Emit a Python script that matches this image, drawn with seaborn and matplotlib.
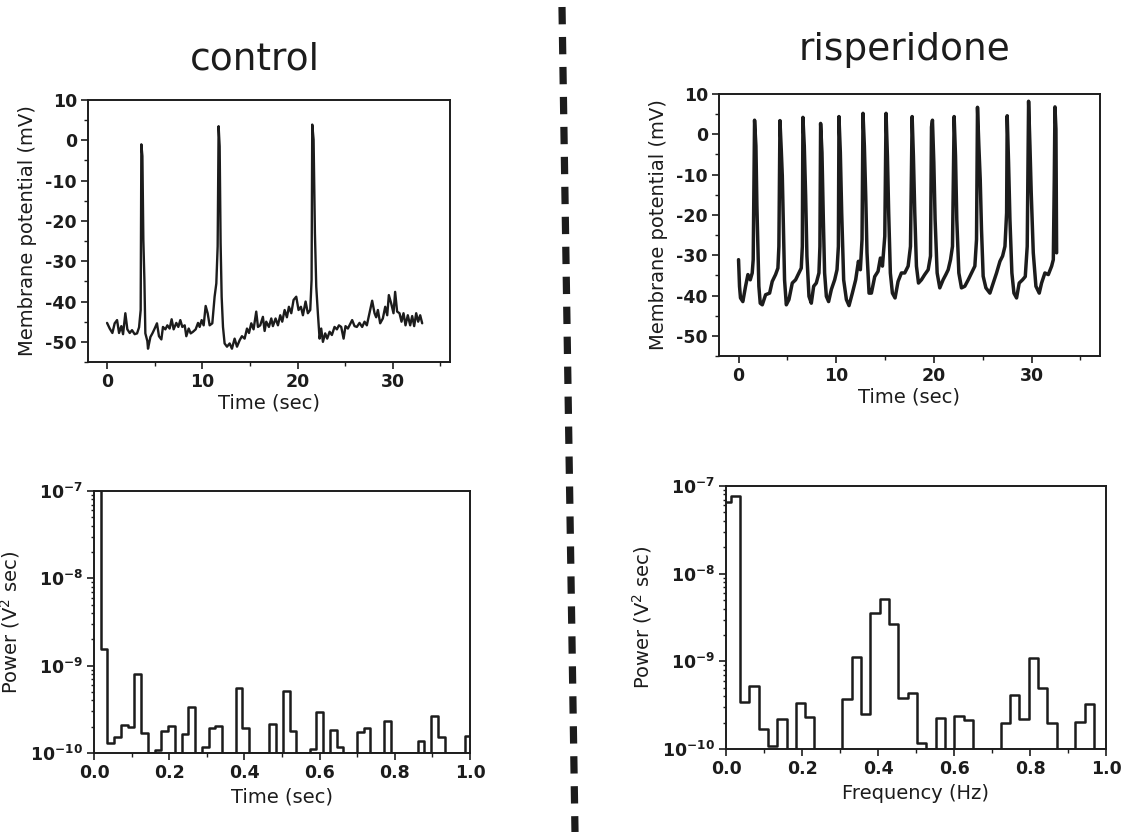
import numpy as np
import matplotlib
matplotlib.use("Agg")
import matplotlib.pyplot as plt
from matplotlib.lines import Line2D
from matplotlib.ticker import MultipleLocator, FixedLocator, LogLocator
import seaborn as sns

# ---------------- data ----------------
# control membrane potential trace (time s, mV)
ctrl_t = [0.0, 0.28, 0.56, 0.80, 1.05, 1.26, 1.5, 1.68, 1.92, 2.13, 2.38, 2.62, 2.9, 3.15, 3.36, 3.53,
          3.6, 3.71, 3.81, 3.92, 4.02, 4.23, 4.3, 4.55, 4.76, 5.0, 5.24, 5.45, 5.7, 5.87, 6.12, 6.33,
          6.57, 6.78, 6.99, 7.27, 7.48, 7.69, 7.9, 8.15, 8.32, 8.57, 8.78, 9.02, 9.3, 9.55, 9.72, 9.93,
          10.14, 10.35, 10.56, 10.77, 11.05, 11.29, 11.47, 11.61, 11.71, 11.82, 11.92, 12.03, 12.17,
          12.34, 12.59, 12.87, 13.11, 13.39, 13.64, 13.92, 14.16, 14.44, 14.69, 14.9, 15.14, 15.38,
          15.66, 15.84, 16.08, 16.36, 16.54, 16.71, 16.99, 17.24, 17.41, 17.69, 17.94, 18.18, 18.39,
          18.64, 18.88, 19.09, 19.34, 19.58, 19.86, 20.1, 20.35, 20.56, 20.84, 21.08, 21.33, 21.47,
          21.54, 21.68, 21.82, 21.96, 22.13, 22.31, 22.48, 22.66, 22.9, 23.11, 23.36, 23.6, 23.88,
          24.13, 24.34, 24.58, 24.83, 25.03, 25.28, 25.45, 25.73, 25.98, 26.22, 26.5, 26.78, 27.03,
          27.27, 27.55, 27.83, 28.08, 28.25, 28.43, 28.67, 28.95, 29.2, 29.41, 29.58, 29.83, 30.07,
          30.24, 30.45, 30.7, 30.91, 31.12, 31.33, 31.57, 31.82, 32.03, 32.24, 32.45, 32.66, 32.87, 33.08]
ctrl_v = [-45.3, -46.7, -47.8, -45.4, -44.6, -47.8, -46.1, -48.1, -42.9, -46.9, -47.8, -47.1, -48.1,
          -47.9, -46.4, -42.1, -1.0, -3.9, -24.7, -34.6, -47.9, -49.8, -51.7, -48.8, -47.9, -46.7,
          -45.4, -48.6, -49.4, -46.3, -46.9, -45.9, -46.7, -44.4, -46.9, -45.3, -46.3, -44.6, -46.3,
          -45.9, -48.6, -46.7, -47.9, -47.5, -46.9, -45.3, -46.3, -44.6, -45.9, -41.1, -42.9, -45.9,
          -45.4, -38.8, -35.5, -26.3, 3.5, -1.5, -25.5, -38.8, -46.3, -50.4, -51.2, -50.4, -51.7,
          -49.2, -51.2, -49.6, -48.6, -49.2, -46.7, -47.8, -45.4, -46.9, -42.5, -46.3, -45.9, -43.8,
          -47.3, -45.0, -46.3, -44.2, -46.1, -44.2, -45.9, -43.4, -45.0, -42.1, -43.9, -41.3, -42.9,
          -39.6, -38.8, -42.1, -41.3, -43.4, -40.0, -42.9, -42.1, -34.6, 3.9, 0.2, -23.0, -36.3,
          -42.9, -49.2, -46.7, -50.0, -47.9, -49.2, -47.5, -48.3, -46.3, -46.9, -45.9, -46.3, -49.2,
          -46.1, -46.7, -45.9, -44.6, -46.1, -46.3, -45.3, -46.3, -45.0, -45.9, -42.9, -39.8, -42.9,
          -43.9, -42.1, -45.4, -44.2, -41.3, -43.4, -38.4, -40.5, -42.9, -37.6, -42.5, -42.9, -45.0,
          -42.9, -45.9, -43.4, -45.9, -43.6, -46.1, -42.9, -45.0, -43.4, -45.4]

# risperidone membrane potential trace (time s, mV)
risp_t = [0.0, 0.10, 0.20, 0.44, 0.72, 0.96, 1.2, 1.4, 1.5, 1.64, 1.78, 1.88, 1.98, 2.08, 2.22, 2.43,
          2.77, 3.18, 3.45, 3.79, 4.03, 4.13, 4.24, 4.37, 4.48, 4.58, 4.71, 4.89, 5.16, 5.5, 5.84,
          6.18, 6.42, 6.53, 6.59, 6.73, 6.87, 7.0, 7.21, 7.45, 7.69, 7.96, 8.23, 8.33, 8.4, 8.54,
          8.68, 8.81, 8.99, 9.22, 9.5, 9.84, 10.08, 10.22, 10.28, 10.42, 10.56, 10.76, 11.04, 11.31,
          11.65, 11.99, 12.27, 12.47, 12.64, 12.74, 12.88, 13.02, 13.15, 13.36, 13.6, 13.94, 14.28,
          14.52, 14.73, 14.97, 15.1, 15.24, 15.37, 15.54, 15.75, 16.02, 16.33, 16.67, 17.01, 17.36,
          17.6, 17.77, 17.9, 18.04, 18.21, 18.42, 18.72, 19.06, 19.41, 19.65, 19.75, 19.85, 19.99,
          20.12, 20.33, 20.6, 20.94, 21.22, 21.46, 21.7, 21.9, 22.07, 22.21, 22.34, 22.55, 22.82,
          23.16, 23.51, 23.85, 24.19, 24.36, 24.46, 24.6, 24.74, 24.87, 25.04, 25.32, 25.73, 26.07,
          26.41, 26.76, 27.03, 27.27, 27.44, 27.5, 27.64, 27.78, 27.98, 28.19, 28.46, 28.73, 29.07,
          29.35, 29.55, 29.69, 29.83, 29.96, 30.17, 30.44, 30.78, 31.02, 31.36, 31.71, 32.05, 32.22,
          32.32, 32.39, 32.49, 32.56]
risp_v = [-31.1, -37.7, -40.6, -41.5, -37.7, -34.8, -36.1, -34.4, -31.1, 3.5, -2.9, -17.8, -27.8,
          -37.7, -41.9, -42.3, -39.8, -39.4, -36.5, -34.8, -33.2, -27.8, 3.4, -3.6, -10.3, -21.1,
          -36.1, -42.3, -41.0, -36.9, -36.1, -34.4, -33.2, -27.8, 4.2, -2.9, -15.3, -30.2, -40.2,
          -41.9, -37.7, -36.9, -34.4, -27.8, 2.7, -4.5, -21.1, -34.4, -40.2, -41.5, -38.5, -36.1,
          -33.6, -27.8, 4.4, -4.5, -19.5, -36.1, -41.0, -42.5, -39.4, -36.1, -31.5, -33.6, -26.1,
          5.2, -2.9, -15.3, -29.4, -39.4, -39.4, -35.3, -34.0, -30.7, -32.7, -25.3, 5.2, -5.4,
          -19.5, -34.4, -39.4, -40.6, -36.5, -34.4, -34.4, -32.7, -27.8, 4.4, -5.4, -19.5, -32.7,
          -36.9, -36.1, -34.8, -33.6, -30.2, 1.8, 3.5, -7.0, -21.1, -34.4, -38.1, -36.1, -34.8,
          -33.6, -31.1, -27.8, 4.4, -5.4, -21.1, -34.4, -38.1, -37.7, -36.1, -34.4, -32.7, -26.1,
          6.7, -2.9, -11.2, -23.6, -35.2, -38.1, -39.4, -36.9, -34.4, -31.5, -30.2, -27.8, -19.5,
          4.6, -7.0, -21.1, -34.4, -39.4, -40.6, -36.9, -36.1, -35.3, -27.8, 8.2, -2.9, -14.5,
          -29.4, -37.7, -39.4, -36.9, -34.4, -34.8, -32.7, -31.1, -11.2, 6.8, 1.3, -29.4]

# power spectra (V^2 sec); 1e-10 marks bins at/below the axis floor
ctrl_df = 0.01793
ctrl_power = [3e-7, 1.56e-9, 1.29e-10, 1.54e-10, 2.09e-10, 2.0e-10, 8.0e-10, 1.68e-10, 1e-10,
              1.08e-10, 1.8e-10, 2.04e-10, 1e-10, 1.65e-10, 3.34e-10, 1e-10, 1.18e-10, 1.92e-10,
              2.04e-10, 1e-10, 1e-10, 5.5e-10, 1.92e-10, 1e-10, 1e-10, 1e-10, 2.13e-10, 1e-10,
              5.17e-10, 1.8e-10, 1e-10, 1e-10, 1.1e-10, 2.97e-10, 1e-10, 1.83e-10, 1.16e-10, 1e-10,
              1e-10, 1.73e-10, 1.92e-10, 1e-10, 1e-10, 2.34e-10, 1e-10, 1e-10, 1e-10, 1e-10,
              1.37e-10, 1e-10, 2.65e-10, 1.51e-10, 1e-10, 1e-10, 1e-10, 1.57e-10]
risp_df = 0.02451
risp_power = [6.56e-8, 7.68e-8, 3.42e-10, 5.22e-10, 1.69e-10, 1.07e-10, 2.2e-10, 1e-10, 3.36e-10,
              2.32e-10, 1e-10, 1e-10, 1e-10, 3.74e-10, 1.12e-9, 2.52e-10, 3.54e-9, 5.13e-9, 2.65e-9,
              3.8e-10, 4.3e-10, 1.17e-10, 1e-10, 2.24e-10, 1e-10, 2.37e-10, 2.13e-10, 1e-10, 1e-10,
              1e-10, 1.99e-10, 4.08e-10, 2.2e-10, 1.1e-9, 4.95e-10, 1.99e-10, 1e-10, 1e-10, 2.04e-10,
              3.22e-10, 1e-10, 1e-10]

titles = ["control", "risperidone"]
mv_ticks = [-50, -40, -30, -20, -10, 0, 10]
time_ticks = [0, 10, 20, 30]
freq_ticks = [0.0, 0.2, 0.4, 0.6, 0.8, 1.0]
power_ticks = [1e-10, 1e-9, 1e-8, 1e-7]
power_tick_labels = [r"$\mathbf{10^{-10}}$", r"$\mathbf{10^{-9}}$", r"$\mathbf{10^{-8}}$", r"$\mathbf{10^{-7}}$"]

# ---------------- style ----------------
sns.set_theme(style="ticks")
plt.rcParams["font.family"] = ["DejaVu Sans"]
plt.rcParams["mathtext.fontset"] = "dejavusans"
plt.rcParams["axes.unicode_minus"] = False
INK = "#1c1c1c"

fig = plt.figure(figsize=(11.22, 8.32), dpi=100)
W, H = 1122.0, 832.0

def add_ax(l, t, r, b):
    return fig.add_axes([l / W, 1 - b / H, (r - l) / W, (b - t) / H])

ax_tl = add_ax(88, 100, 450, 362)
ax_tr = add_ax(719, 94, 1100, 356)
ax_bl = add_ax(94, 491, 470, 753)
ax_br = add_ax(726, 486, 1106, 749)

def style_axes(ax):
    for s in ax.spines.values():
        s.set_visible(True)
        s.set_color(INK)
        s.set_linewidth(1.4)
    ax.tick_params(which="major", direction="out", length=5, width=1.2, colors=INK,
                   labelsize=12.5, pad=3)
    ax.tick_params(which="minor", direction="out", length=3, width=1.0, colors=INK)
    for lab in ax.get_xticklabels() + ax.get_yticklabels():
        lab.set_fontweight("bold")
    ax.set_facecolor("white")
    ax.grid(False)

# ---- membrane potential traces ----
for ax, t, v, xr in [(ax_tl, ctrl_t, ctrl_v, (-2, 36)), (ax_tr, risp_t, risp_v, (-2, 37))]:
    sns.lineplot(x=t, y=v, ax=ax, estimator=None, sort=False, color=INK,
                 linewidth=1.7 if ax is ax_tl else 2.5)
    ax.set_xlim(*xr)
    ax.set_ylim(-55, 10)
    ax.xaxis.set_major_locator(FixedLocator(time_ticks))
    ax.xaxis.set_minor_locator(MultipleLocator(5))
    ax.yaxis.set_major_locator(FixedLocator(mv_ticks))
    ax.yaxis.set_minor_locator(MultipleLocator(5))
    ax.set_xlabel("Time (sec)", fontsize=14, color=INK, labelpad=2)
    ax.set_ylabel("Membrane potential (mV)", fontsize=14, color=INK, labelpad=6)
    style_axes(ax)

# ---- power spectra ----
ctrl_edges = np.arange(len(ctrl_power) + 1) * ctrl_df
risp_edges = (np.arange(len(risp_power) + 1) - 0.5) * risp_df
for ax, edges, p, xl in [(ax_bl, ctrl_edges, ctrl_power, "Time (sec)"),
                         (ax_br, risp_edges, risp_power, "Frequency (Hz)")]:
    yy = list(p) + [p[-1]]
    sns.lineplot(x=edges, y=yy, ax=ax, estimator=None, sort=False, color=INK,
                 linewidth=1.8, drawstyle="steps-post")
    ax.set_yscale("log")
    ax.set_xlim(0, 1.0)
    ax.set_ylim(1e-10, 1e-7)
    ax.xaxis.set_major_locator(FixedLocator(freq_ticks))
    ax.xaxis.set_minor_locator(MultipleLocator(0.1))
    ax.set_xticklabels([f"{v:.1f}" for v in freq_ticks])
    ax.set_yticks(power_ticks)
    ax.set_yticklabels(power_tick_labels)
    ax.yaxis.set_minor_locator(LogLocator(base=10, subs=np.arange(2, 10)))
    ax.yaxis.set_minor_formatter(plt.NullFormatter())
    ax.set_xlabel(xl, fontsize=14, color=INK, labelpad=4)
    ax.set_ylabel(r"Power (V$^2$ sec)", fontsize=14, color=INK, labelpad=6)
    style_axes(ax)
    ax.tick_params(axis="y", which="minor", length=2.5)

# ---- titles ----
fig.text(255 / W, 1 - 69 / H, titles[0], fontsize=27, ha="center", va="baseline", color=INK)
fig.text(904 / W, 1 - 60 / H, titles[1], fontsize=27, ha="center", va="baseline", color=INK)

# ---- dashed separator ----
sep = Line2D([562 / W, 575 / W], [1 - 7 / H, 0.0], transform=fig.transFigure, color=INK,
             linewidth=5.2, linestyle=(0, (2.4, 1.75)), solid_capstyle="butt",
             dash_capstyle="butt")
fig.add_artist(sep)

fig.savefig("out.png", dpi=100, facecolor="white")
